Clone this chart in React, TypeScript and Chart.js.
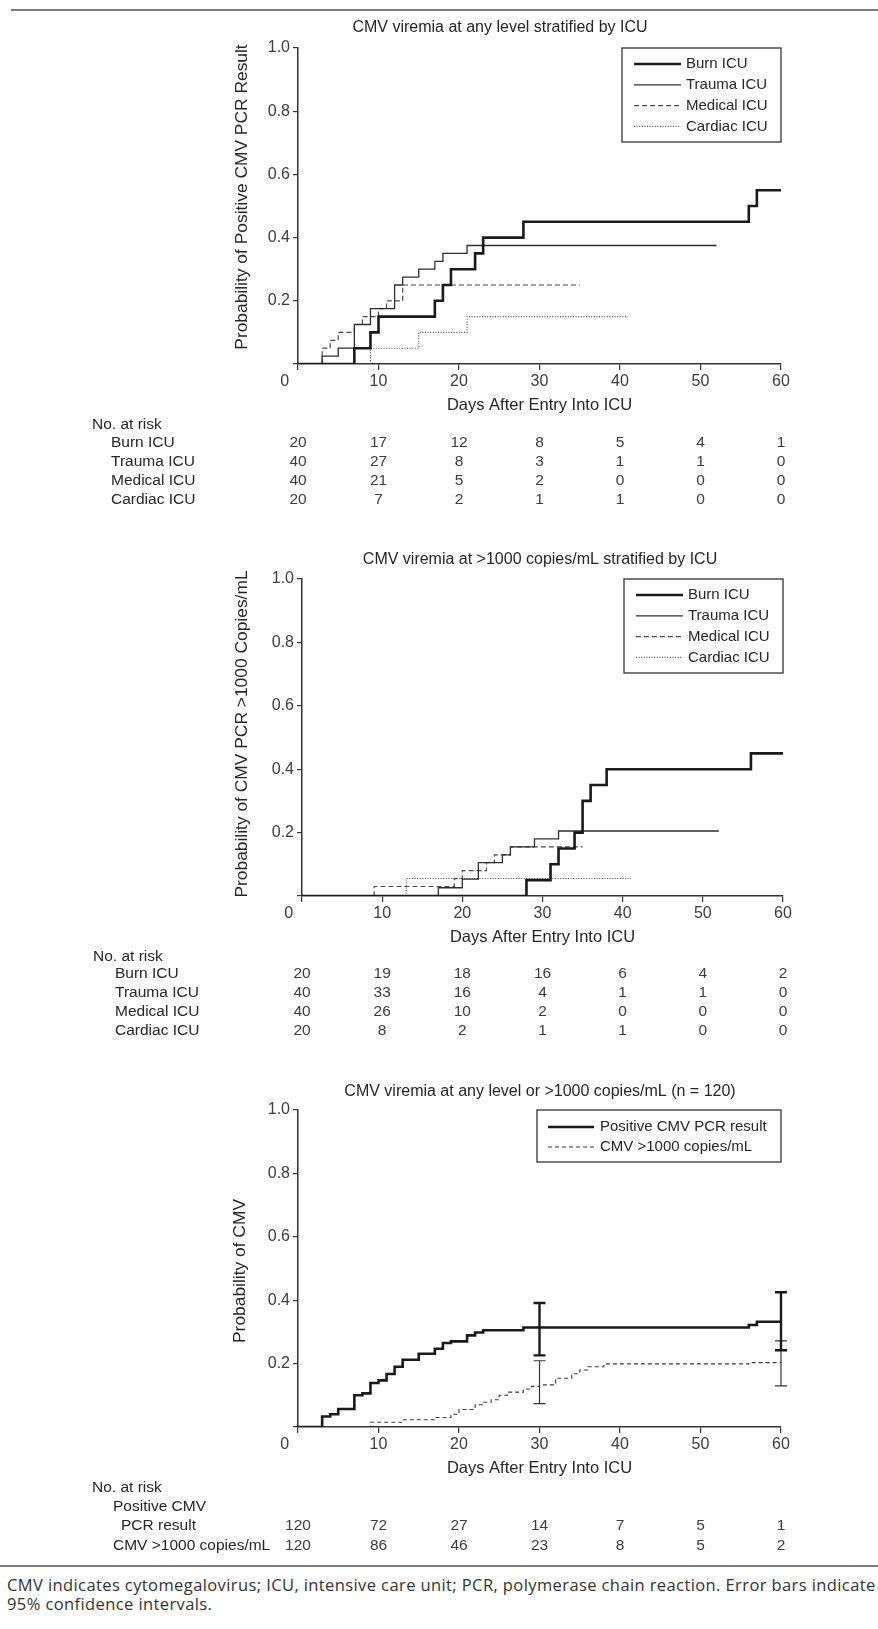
import React, { useEffect, useRef } from 'react';
import { Chart, registerables } from 'chart.js';

Chart.register(...registerables);

const FONT = '"Liberation Sans", Arial, Helvetica, sans-serif';
const INK = '#262626';
const TICK_INK = '#3c3c3c';

// ---------- shared axes ----------
const xTickDays = [0, 10, 20, 30, 40, 50, 60];

// ---------- Panel A: CMV viremia at any level stratified by ICU ----------
const aBurnDays = [0, 7, 9, 10, 17, 18, 19, 22, 23, 28, 56, 57, 60];
const aBurnProb = [0, 0.05, 0.10, 0.15, 0.20, 0.25, 0.30, 0.35, 0.40, 0.45, 0.50, 0.55, 0.55];
const aTraumaDays = [0, 3, 5, 7, 9, 12, 13, 15, 17, 18, 21, 52];
const aTraumaProb = [0, 0.025, 0.05, 0.125, 0.175, 0.25, 0.275, 0.30, 0.325, 0.35, 0.375, 0.375];
const aMedicalDays = [0, 3, 4, 5, 7, 8, 10, 11, 13, 35];
const aMedicalProb = [0, 0.05, 0.075, 0.10, 0.125, 0.15, 0.175, 0.20, 0.25, 0.25];
const aCardiacDays = [0, 9, 15, 21, 41];
const aCardiacProb = [0, 0.05, 0.10, 0.15, 0.15];
const aRiskBurn = [20, 17, 12, 8, 5, 4, 1];
const aRiskTrauma = [40, 27, 8, 3, 1, 1, 0];
const aRiskMedical = [40, 21, 5, 2, 0, 0, 0];
const aRiskCardiac = [20, 7, 2, 1, 1, 0, 0];

// ---------- Panel B: CMV viremia at >1000 copies/mL stratified by ICU ----------
const bBurnDays = [0, 28, 31, 32, 34, 35, 36, 38, 56, 60];
const bBurnProb = [0, 0.05, 0.10, 0.15, 0.20, 0.30, 0.35, 0.40, 0.45, 0.45];
const bTraumaDays = [0, 17, 20, 22, 25, 26, 29, 32, 52];
const bTraumaProb = [0, 0.026, 0.053, 0.105, 0.13, 0.155, 0.18, 0.205, 0.205];
const bMedicalDays = [0, 9, 19, 20, 23, 24, 26, 35];
const bMedicalProb = [0, 0.03, 0.055, 0.08, 0.105, 0.13, 0.155, 0.155];
const bCardiacDays = [0, 13, 41];
const bCardiacProb = [0, 0.055, 0.055];
const bRiskBurn = [20, 19, 18, 16, 6, 4, 2];
const bRiskTrauma = [40, 33, 16, 4, 1, 1, 0];
const bRiskMedical = [40, 26, 10, 2, 0, 0, 0];
const bRiskCardiac = [20, 8, 2, 1, 1, 0, 0];

// ---------- Panel C: any level or >1000 copies/mL (n=120) ----------
const cPosDays = [0, 3, 4, 5, 7, 8, 9, 10, 11, 12, 13, 15, 17, 18, 19, 21, 22, 23, 28, 56, 57, 60];
const cPosProb = [0, 0.033, 0.04, 0.057, 0.10, 0.106, 0.139, 0.147, 0.167, 0.19, 0.212, 0.231, 0.247, 0.265, 0.27, 0.289, 0.298, 0.305, 0.314, 0.322, 0.332, 0.332];
const cHighDays = [0, 9, 13, 17, 19, 20, 22, 23, 24, 25, 26, 28, 29, 30, 32, 34, 35, 36, 38, 56, 60];
const cHighProb = [0, 0.015, 0.023, 0.03, 0.04, 0.055, 0.07, 0.078, 0.086, 0.10, 0.11, 0.12, 0.128, 0.133, 0.154, 0.168, 0.18, 0.19, 0.199, 0.203, 0.203];
const cErrDays = [30, 60];
const cPosLow = [0.226, 0.242];
const cPosHigh = [0.391, 0.425];
const cHighLow = [0.074, 0.13];
const cHighHigh = [0.209, 0.272];
const cRiskPos = [120, 72, 27, 14, 7, 5, 1];
const cRiskHigh = [120, 86, 46, 23, 8, 5, 2];

// ---------- styles ----------
const STYLE_THICK = { color: '#1a1a1a', width: 2.6, dash: [] as number[] };
const STYLE_THIN = { color: '#2e2e2e', width: 1.3, dash: [] as number[] };
const STYLE_DASH = { color: '#4a4a4a', width: 1.2, dash: [5, 3] };
const STYLE_DOT = { color: '#4a4a4a', width: 1.1, dash: [1, 1.6] };
const STYLE_DASH_C = { color: '#3a3a3a', width: 1.1, dash: [4, 3] };

const TITLE_SIZE = 16;
const TICK_SIZE = 16;
const YTITLE_SIZE = 17.4;
const XTITLE_SIZE = 16.5;
const LEGEND_SIZE = 15;
const RISK_SIZE = 15.5;

type LineStyle = { color: string; width: number; dash: number[] };

const toPoints = (days: number[], probs: number[]) => days.map((d, i) => ({ x: d, y: probs[i] }));

const mkDataset = (label: string, days: number[], probs: number[], st: LineStyle) => ({
  label,
  data: toPoints(days, probs),
  borderColor: st.color,
  borderWidth: st.width,
  borderDash: st.dash,
  borderCapStyle: 'butt',
  borderJoinStyle: 'miter',
  stepped: 'before',
  pointRadius: 0,
  fill: false,
  tension: 0,
});

const decorPlugin = {
  id: 'decor',
  afterDraw(chart: any, _args: any, opts: any) {
    const { ctx, chartArea, scales } = chart;
    const off = opts.offset;
    const xs = scales.x;
    const ys = scales.y;
    ctx.save();
    // title
    ctx.font = `${TITLE_SIZE}px ${FONT}`;
    ctx.fillStyle = INK;
    ctx.textAlign = 'center';
    ctx.textBaseline = 'middle';
    ctx.fillText(opts.title, opts.titleX, opts.titleY - off);

    // y axis title (rotated)
    ctx.save();
    ctx.translate(opts.yTitleX, opts.yTitleY - off);
    ctx.rotate(-Math.PI / 2);
    ctx.font = `${YTITLE_SIZE}px ${FONT}`;
    ctx.fillStyle = INK;
    ctx.textAlign = 'center';
    ctx.textBaseline = 'middle';
    ctx.fillText(opts.yTitle, 0, 0);
    ctx.restore();

    // error bars
    (opts.errorBars || []).forEach((eb: any) => {
      ctx.strokeStyle = eb.style.color;
      ctx.lineWidth = eb.style.width;
      ctx.setLineDash([]);
      eb.days.forEach((d: number, i: number) => {
        const px = xs.getPixelForValue(d);
        const yl = ys.getPixelForValue(eb.low[i]);
        const yh = ys.getPixelForValue(eb.high[i]);
        ctx.beginPath();
        ctx.moveTo(px, yl);
        ctx.lineTo(px, yh);
        ctx.moveTo(px - eb.cap, yl);
        ctx.lineTo(px + eb.cap, yl);
        ctx.moveTo(px - eb.cap, yh);
        ctx.lineTo(px + eb.cap, yh);
        ctx.stroke();
      });
    });

    // legend box
    const lg = opts.legend;
    const bx = chartArea.right - lg.width;
    const by = chartArea.top;
    ctx.setLineDash([]);
    ctx.fillStyle = '#ffffff';
    ctx.fillRect(bx, by, lg.width, lg.height);
    ctx.strokeStyle = '#333';
    ctx.lineWidth = 1.3;
    ctx.strokeRect(bx, by, lg.width, lg.height);
    lg.items.forEach((it: any, i: number) => {
      const y = by + lg.rowStart + i * lg.rowGap;
      ctx.strokeStyle = it.style.color;
      ctx.lineWidth = it.style.width;
      ctx.setLineDash(it.style.dash);
      ctx.beginPath();
      ctx.moveTo(bx + lg.lineX0, y);
      ctx.lineTo(bx + lg.lineX1, y);
      ctx.stroke();
      ctx.setLineDash([]);
      ctx.fillStyle = INK;
      ctx.textAlign = 'left';
      ctx.textBaseline = 'middle';
      ctx.font = `${LEGEND_SIZE}px ${FONT}`;
      ctx.fillText(it.label, bx + lg.textX, y);
    });

    // risk table
    const rk = opts.risk;
    ctx.font = `${RISK_SIZE}px ${FONT}`;
    ctx.fillStyle = INK;
    ctx.textBaseline = 'middle';
    ctx.textAlign = 'left';
    rk.labels.forEach((l: any) => ctx.fillText(l.text, l.x, l.y - off));
    ctx.textAlign = 'center';
    ctx.fillStyle = TICK_INK;
    rk.rows.forEach((r: any) => {
      r.values.forEach((v: number, i: number) => {
        ctx.fillText(String(v), xs.getPixelForValue(xTickDays[i]), r.y - off);
      });
    });
    ctx.restore();
  },
};

type PanelProps = {
  top: number;
  height: number;
  chartLeft: number;
  chartRight: number;
  chartTop: number;
  chartBottom: number;
  datasets: any[];
  decor: any;
};

function Panel(p: PanelProps) {
  const ref = useRef<HTMLCanvasElement | null>(null);
  useEffect(() => {
    if (!ref.current) return;
    const padLeft = 220;
    const xScaleH = 51;
    const chart = new Chart(ref.current, {
      type: 'line',
      data: { datasets: p.datasets },
      plugins: [decorPlugin],
      options: {
        animation: false,
        responsive: false,
        devicePixelRatio: 1,
        events: [],
        layout: {
          padding: {
            left: padLeft,
            right: 878 - p.chartRight,
            top: p.chartTop - p.top,
            bottom: p.height - (p.chartBottom - p.top) - xScaleH,
          },
        },
        plugins: {
          legend: { display: false },
          tooltip: { enabled: false },
          title: { display: false },
          decor: { ...p.decor, offset: p.top },
        } as any,
        scales: {
          x: {
            type: 'linear',
            min: 0,
            max: 60,
            afterFit: (s: any) => { s.height = xScaleH; },
            afterBuildTicks: (s: any) => { s.ticks = xTickDays.map((v) => ({ value: v })); },
            ticks: {
              font: { family: FONT, size: TICK_SIZE },
              color: TICK_INK,
              padding: 2,
              maxRotation: 0,
              callback: (v: any) => (v === 0 ? '0\u00a0\u00a0\u00a0\u00a0\u00a0\u00a0' : String(v)),
            },
            grid: { drawOnChartArea: false, drawTicks: true, tickLength: 6, color: '#333', lineWidth: 1.2 },
            border: { display: true, color: '#333', width: 1.5 },
            title: {
              display: true,
              text: 'Days After Entry Into ICU',
              font: { family: FONT, size: XTITLE_SIZE },
              color: INK,
              padding: { top: 0, bottom: 0 },
            },
          },
          y: {
            type: 'linear',
            min: 0,
            max: 1,
            afterFit: (s: any) => { s.width = p.chartLeft - padLeft; },
            ticks: {
              stepSize: 0.2,
              font: { family: FONT, size: TICK_SIZE },
              color: TICK_INK,
              padding: 3,
              callback: (v: any) => (v === 0 ? '' : Number(v).toFixed(1)),
            },
            grid: { drawOnChartArea: false, drawTicks: true, tickLength: 5, color: '#333', lineWidth: 1.2 },
            border: { display: true, color: '#333', width: 1.5 },
            title: { display: false },
          },
        },
      } as any,
    });
    return () => chart.destroy();
  }, []);
  return (
    <canvas
      ref={ref}
      width={878}
      height={p.height}
      style={{ position: 'absolute', left: 0, top: p.top, width: 878, height: p.height }}
    />
  );
}

const icuLegend = (w: number) => ({
  width: w,
  height: 94,
  rowStart: 16,
  rowGap: 20.8,
  lineX0: 12,
  lineX1: 59,
  textX: 64,
  items: [
    { label: 'Burn ICU', style: STYLE_THICK },
    { label: 'Trauma ICU', style: STYLE_THIN },
    { label: 'Medical ICU', style: STYLE_DASH },
    { label: 'Cardiac ICU', style: STYLE_DOT },
  ],
});

export default function App() {
  const panelA = {
    top: 14, height: 500, chartLeft: 298, chartRight: 781, chartTop: 48, chartBottom: 364,
    datasets: [
      mkDataset('Burn ICU', aBurnDays, aBurnProb, STYLE_THICK),
      mkDataset('Trauma ICU', aTraumaDays, aTraumaProb, STYLE_THIN),
      mkDataset('Medical ICU', aMedicalDays, aMedicalProb, STYLE_DASH),
      mkDataset('Cardiac ICU', aCardiacDays, aCardiacProb, STYLE_DOT),
    ],
    decor: {
      title: 'CMV viremia at any level stratified by ICU', titleX: 500, titleY: 28,
      yTitle: 'Probability of Positive CMV PCR Result', yTitleX: 242, yTitleY: 197,
      legend: icuLegend(159),
      risk: {
        labels: [
          { text: 'No. at risk', x: 92, y: 425 },
          { text: 'Burn ICU', x: 111, y: 443 },
          { text: 'Trauma ICU', x: 111, y: 462 },
          { text: 'Medical ICU', x: 111, y: 481 },
          { text: 'Cardiac ICU', x: 111, y: 500 },
        ],
        rows: [
          { y: 443, values: aRiskBurn },
          { y: 462, values: aRiskTrauma },
          { y: 481, values: aRiskMedical },
          { y: 500, values: aRiskCardiac },
        ],
      },
    },
  };
  const panelB = {
    top: 540, height: 500, chartLeft: 302, chartRight: 783, chartTop: 579, chartBottom: 896,
    datasets: [
      mkDataset('Burn ICU', bBurnDays, bBurnProb, STYLE_THICK),
      mkDataset('Trauma ICU', bTraumaDays, bTraumaProb, STYLE_THIN),
      mkDataset('Medical ICU', bMedicalDays, bMedicalProb, STYLE_DASH),
      mkDataset('Cardiac ICU', bCardiacDays, bCardiacProb, STYLE_DOT),
    ],
    decor: {
      title: 'CMV viremia at >1000 copies/mL stratified by ICU', titleX: 540, titleY: 560,
      yTitle: 'Probability of CMV PCR >1000 Copies/mL', yTitleX: 242, yTitleY: 734,
      legend: icuLegend(159),
      risk: {
        labels: [
          { text: 'No. at risk', x: 93, y: 957 },
          { text: 'Burn ICU', x: 115, y: 974 },
          { text: 'Trauma ICU', x: 115, y: 993 },
          { text: 'Medical ICU', x: 115, y: 1012 },
          { text: 'Cardiac ICU', x: 115, y: 1031 },
        ],
        rows: [
          { y: 974, values: bRiskBurn },
          { y: 993, values: bRiskTrauma },
          { y: 1012, values: bRiskMedical },
          { y: 1031, values: bRiskCardiac },
        ],
      },
    },
  };
  const panelC = {
    top: 1072, height: 490, chartLeft: 298, chartRight: 781, chartTop: 1110, chartBottom: 1427,
    datasets: [
      mkDataset('Positive CMV PCR result', cPosDays, cPosProb, STYLE_THICK),
      mkDataset('CMV >1000 copies/mL', cHighDays, cHighProb, STYLE_DASH_C),
    ],
    decor: {
      title: 'CMV viremia at any level or >1000 copies/mL (n = 120)', titleX: 540, titleY: 1092,
      yTitle: 'Probability of CMV', yTitleX: 240, yTitleY: 1271,
      legend: {
        width: 244, height: 52, rowStart: 17, rowGap: 20, lineX0: 11, lineX1: 57, textX: 63,
        items: [
          { label: 'Positive CMV PCR result', style: STYLE_THICK },
          { label: 'CMV >1000 copies/mL', style: STYLE_DASH_C },
        ],
      },
      errorBars: [
        { days: cErrDays, low: cHighLow, high: cHighHigh, style: { color: '#333', width: 1.2 }, cap: 6 },
        { days: cErrDays, low: cPosLow, high: cPosHigh, style: { color: '#1a1a1a', width: 2.4 }, cap: 6 },
      ],
      risk: {
        labels: [
          { text: 'No. at risk', x: 92, y: 1488 },
          { text: 'Positive CMV', x: 113, y: 1507 },
          { text: 'PCR result', x: 121, y: 1526 },
          { text: 'CMV >1000 copies/mL', x: 113, y: 1546 },
        ],
        rows: [
          { y: 1526, values: cRiskPos },
          { y: 1546, values: cRiskHigh },
        ],
      },
    },
  };

  return (
    <div style={{ position: 'absolute', left: 0, top: 0, width: 878, height: 1629, background: '#fff', overflow: 'hidden' }}>
      <div style={{ position: 'absolute', left: 11, top: 9, width: 867, height: 2, background: '#7a7a7a' }} />
      <Panel {...panelA} />
      <Panel {...panelB} />
      <Panel {...panelC} />
      <div style={{ position: 'absolute', left: 0, top: 1565, width: 878, height: 2, background: '#7a7a7a' }} />
      <div
        style={{
          position: 'absolute', left: 7, top: 1575, whiteSpace: 'nowrap',
          fontFamily: '"Open Sans", "DejaVu Sans", sans-serif', fontSize: 16.5, letterSpacing: '0.4px',
          lineHeight: '19px', color: '#333',
        }}
      >
        CMV indicates cytomegalovirus; ICU, intensive care unit; PCR, polymerase chain reaction. Error bars indicate
        <br />
        95% confidence intervals.
      </div>
    </div>
  );
}
